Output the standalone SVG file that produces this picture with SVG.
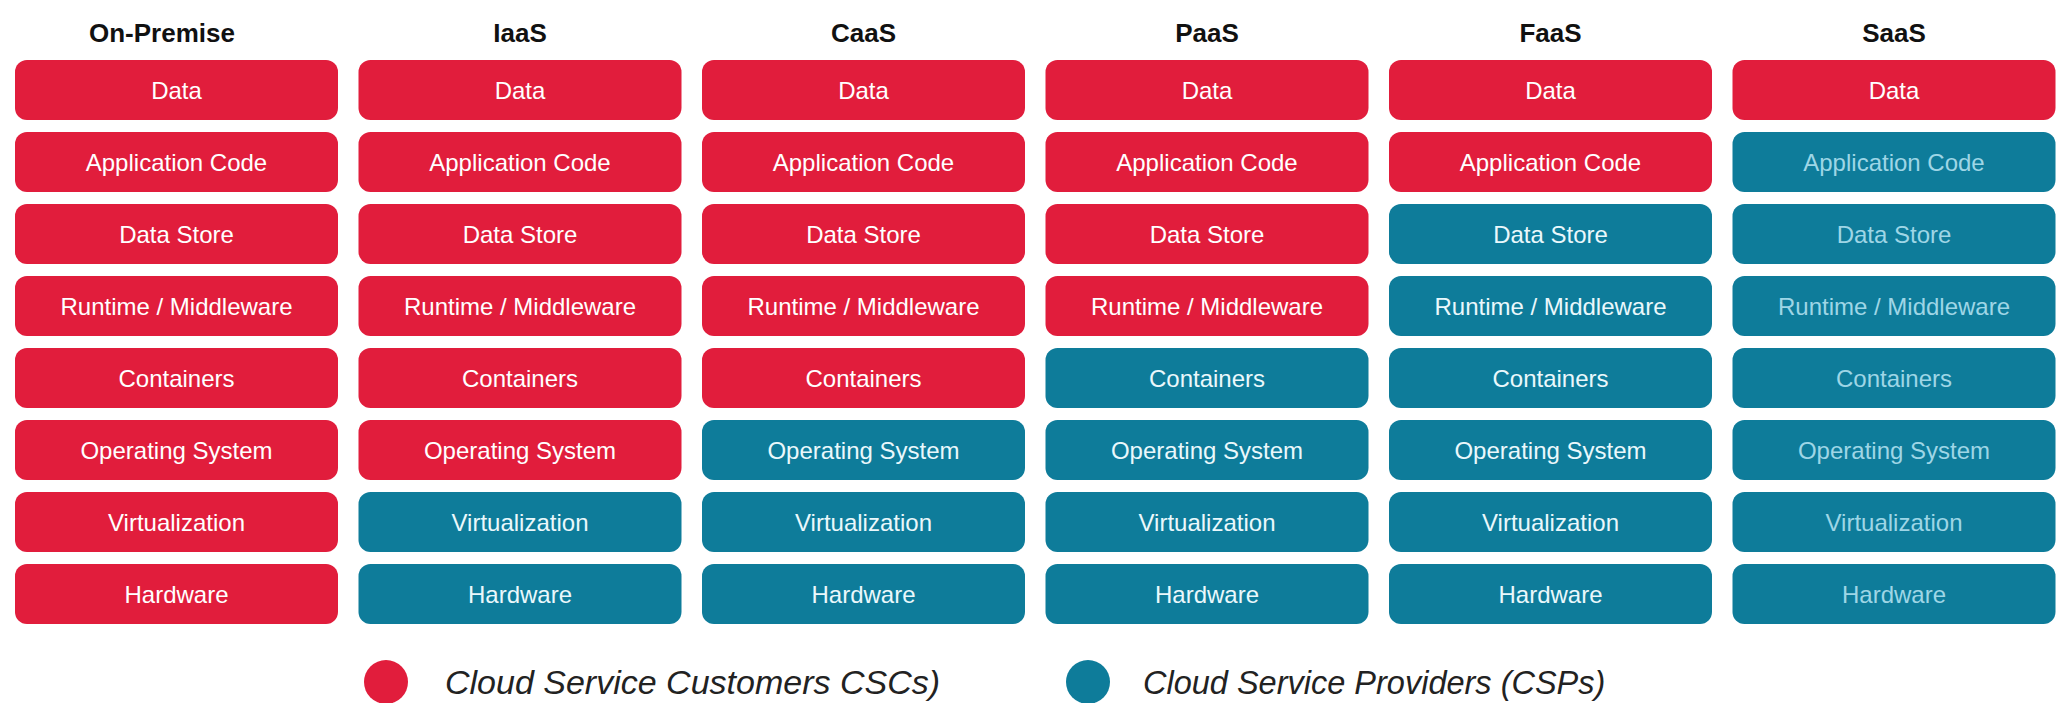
<svg xmlns="http://www.w3.org/2000/svg" width="2056" height="703" viewBox="0 0 2056 703">
<style>
.hd{font-family:"Liberation Sans",Arial,sans-serif;font-weight:bold;font-size:26px;fill:#111;text-anchor:middle}
.r{fill:#E11D3C}
.b{fill:#0E7C9A}
.t{font-family:"Liberation Sans",Arial,sans-serif;font-size:24px;fill:#fff;text-anchor:middle}
.tb{fill:#EAF8FC}
.tf{fill:#9ED6E6}
.lg{font-family:"Liberation Sans",Arial,sans-serif;font-style:italic;font-size:33px;fill:#222}
</style>
<rect width="2056" height="703" fill="#fff"/>
<g id="headers">
<text class="hd" x="162" y="42">On-Premise</text>
<text class="hd" x="520" y="42">IaaS</text>
<text class="hd" x="863.5" y="42">CaaS</text>
<text class="hd" x="1207" y="42">PaaS</text>
<text class="hd" x="1550.5" y="42">FaaS</text>
<text class="hd" x="1894" y="42">SaaS</text>
</g>
<g id="col-onpremise">
<rect class="r" x="15" y="60" width="323" height="60" rx="12"/><text class="t" x="176.5" y="99">Data</text>
<rect class="r" x="15" y="132" width="323" height="60" rx="12"/><text class="t" x="176.5" y="171">Application Code</text>
<rect class="r" x="15" y="204" width="323" height="60" rx="12"/><text class="t" x="176.5" y="243">Data Store</text>
<rect class="r" x="15" y="276" width="323" height="60" rx="12"/><text class="t" x="176.5" y="315">Runtime / Middleware</text>
<rect class="r" x="15" y="348" width="323" height="60" rx="12"/><text class="t" x="176.5" y="387">Containers</text>
<rect class="r" x="15" y="420" width="323" height="60" rx="12"/><text class="t" x="176.5" y="459">Operating System</text>
<rect class="r" x="15" y="492" width="323" height="60" rx="12"/><text class="t" x="176.5" y="531">Virtualization</text>
<rect class="r" x="15" y="564" width="323" height="60" rx="12"/><text class="t" x="176.5" y="603">Hardware</text>
</g>
<g id="col-iaas">
<rect class="r" x="358.5" y="60" width="323" height="60" rx="12"/><text class="t" x="520" y="99">Data</text>
<rect class="r" x="358.5" y="132" width="323" height="60" rx="12"/><text class="t" x="520" y="171">Application Code</text>
<rect class="r" x="358.5" y="204" width="323" height="60" rx="12"/><text class="t" x="520" y="243">Data Store</text>
<rect class="r" x="358.5" y="276" width="323" height="60" rx="12"/><text class="t" x="520" y="315">Runtime / Middleware</text>
<rect class="r" x="358.5" y="348" width="323" height="60" rx="12"/><text class="t" x="520" y="387">Containers</text>
<rect class="r" x="358.5" y="420" width="323" height="60" rx="12"/><text class="t" x="520" y="459">Operating System</text>
<rect class="b" x="358.5" y="492" width="323" height="60" rx="12"/><text class="t tb" x="520" y="531">Virtualization</text>
<rect class="b" x="358.5" y="564" width="323" height="60" rx="12"/><text class="t tb" x="520" y="603">Hardware</text>
</g>
<g id="col-caas">
<rect class="r" x="702" y="60" width="323" height="60" rx="12"/><text class="t" x="863.5" y="99">Data</text>
<rect class="r" x="702" y="132" width="323" height="60" rx="12"/><text class="t" x="863.5" y="171">Application Code</text>
<rect class="r" x="702" y="204" width="323" height="60" rx="12"/><text class="t" x="863.5" y="243">Data Store</text>
<rect class="r" x="702" y="276" width="323" height="60" rx="12"/><text class="t" x="863.5" y="315">Runtime / Middleware</text>
<rect class="r" x="702" y="348" width="323" height="60" rx="12"/><text class="t" x="863.5" y="387">Containers</text>
<rect class="b" x="702" y="420" width="323" height="60" rx="12"/><text class="t tb" x="863.5" y="459">Operating System</text>
<rect class="b" x="702" y="492" width="323" height="60" rx="12"/><text class="t tb" x="863.5" y="531">Virtualization</text>
<rect class="b" x="702" y="564" width="323" height="60" rx="12"/><text class="t tb" x="863.5" y="603">Hardware</text>
</g>
<g id="col-paas">
<rect class="r" x="1045.5" y="60" width="323" height="60" rx="12"/><text class="t" x="1207" y="99">Data</text>
<rect class="r" x="1045.5" y="132" width="323" height="60" rx="12"/><text class="t" x="1207" y="171">Application Code</text>
<rect class="r" x="1045.5" y="204" width="323" height="60" rx="12"/><text class="t" x="1207" y="243">Data Store</text>
<rect class="r" x="1045.5" y="276" width="323" height="60" rx="12"/><text class="t" x="1207" y="315">Runtime / Middleware</text>
<rect class="b" x="1045.5" y="348" width="323" height="60" rx="12"/><text class="t tb" x="1207" y="387">Containers</text>
<rect class="b" x="1045.5" y="420" width="323" height="60" rx="12"/><text class="t tb" x="1207" y="459">Operating System</text>
<rect class="b" x="1045.5" y="492" width="323" height="60" rx="12"/><text class="t tb" x="1207" y="531">Virtualization</text>
<rect class="b" x="1045.5" y="564" width="323" height="60" rx="12"/><text class="t tb" x="1207" y="603">Hardware</text>
</g>
<g id="col-faas">
<rect class="r" x="1389" y="60" width="323" height="60" rx="12"/><text class="t" x="1550.5" y="99">Data</text>
<rect class="r" x="1389" y="132" width="323" height="60" rx="12"/><text class="t" x="1550.5" y="171">Application Code</text>
<rect class="b" x="1389" y="204" width="323" height="60" rx="12"/><text class="t tb" x="1550.5" y="243">Data Store</text>
<rect class="b" x="1389" y="276" width="323" height="60" rx="12"/><text class="t tb" x="1550.5" y="315">Runtime / Middleware</text>
<rect class="b" x="1389" y="348" width="323" height="60" rx="12"/><text class="t tb" x="1550.5" y="387">Containers</text>
<rect class="b" x="1389" y="420" width="323" height="60" rx="12"/><text class="t tb" x="1550.5" y="459">Operating System</text>
<rect class="b" x="1389" y="492" width="323" height="60" rx="12"/><text class="t tb" x="1550.5" y="531">Virtualization</text>
<rect class="b" x="1389" y="564" width="323" height="60" rx="12"/><text class="t tb" x="1550.5" y="603">Hardware</text>
</g>
<g id="col-saas">
<rect class="r" x="1732.5" y="60" width="323" height="60" rx="12"/><text class="t" x="1894" y="99">Data</text>
<rect class="b" x="1732.5" y="132" width="323" height="60" rx="12"/><text class="t tf" x="1894" y="171">Application Code</text>
<rect class="b" x="1732.5" y="204" width="323" height="60" rx="12"/><text class="t tf" x="1894" y="243">Data Store</text>
<rect class="b" x="1732.5" y="276" width="323" height="60" rx="12"/><text class="t tf" x="1894" y="315">Runtime / Middleware</text>
<rect class="b" x="1732.5" y="348" width="323" height="60" rx="12"/><text class="t tf" x="1894" y="387">Containers</text>
<rect class="b" x="1732.5" y="420" width="323" height="60" rx="12"/><text class="t tf" x="1894" y="459">Operating System</text>
<rect class="b" x="1732.5" y="492" width="323" height="60" rx="12"/><text class="t tf" x="1894" y="531">Virtualization</text>
<rect class="b" x="1732.5" y="564" width="323" height="60" rx="12"/><text class="t tf" x="1894" y="603">Hardware</text>
</g>
<g id="legend">
<circle class="r" cx="386" cy="682" r="22"/>
<text class="lg" x="445" y="694" style="font-size:34px">Cloud Service Customers CSCs)</text>
<circle class="b" cx="1088" cy="682" r="22"/>
<text class="lg" x="1143" y="694" style="font-size:32.5px">Cloud Service Providers (CSPs)</text>
</g>
<g id="connectors"/>
</svg>
